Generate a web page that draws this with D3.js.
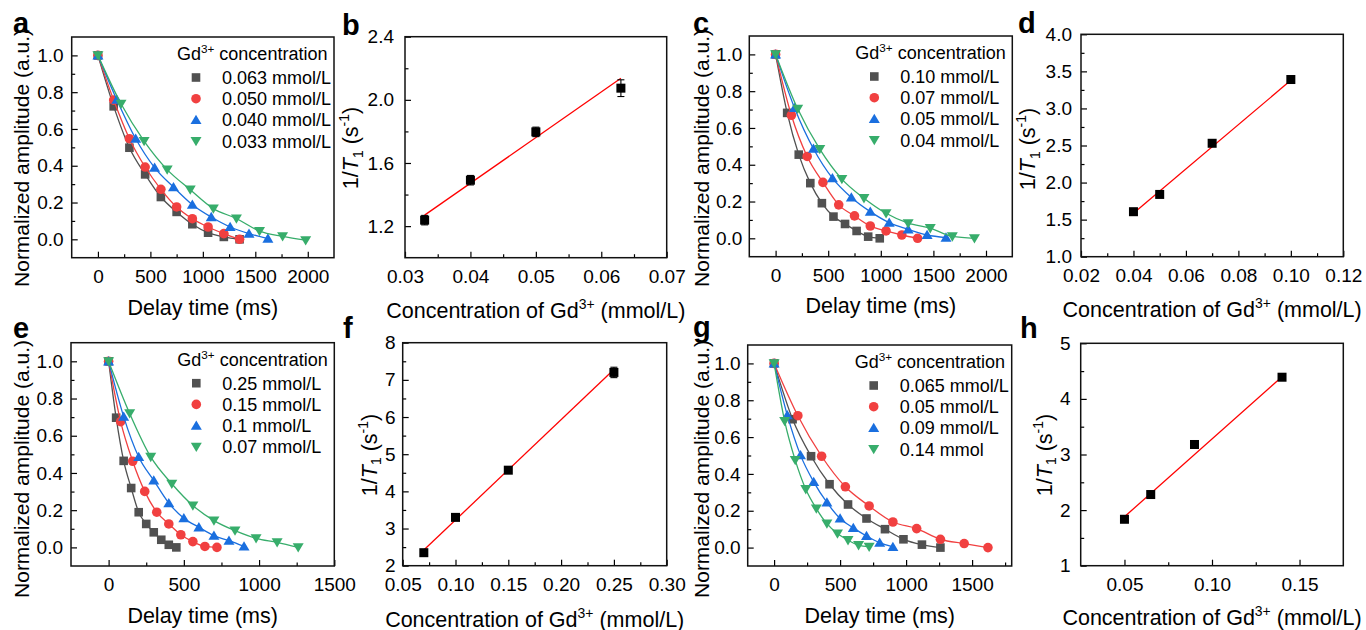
<!DOCTYPE html>
<html>
<head>
<meta charset="utf-8">
<script src="https://cdn.jsdelivr.net/npm/d3@7"></script>
<style>
body { margin: 0; background: #fff; }
svg { display: block; font-family: "Liberation Sans", Arial, sans-serif; }
</style>
</head>
<body>
<svg id="fig" width="1366" height="630"></svg>
<script>
const colors = ['#515151', '#F14040', '#1A6FDF', '#37AD6B'];
const shapes = ['square', 'circle', 'up', 'down'];

// ---- decay data (delay time in ms, normalized amplitude) ----
const aLabels = ['0.063 mmol/L', '0.050 mmol/L', '0.040 mmol/L', '0.033 mmol/L'];
const aTimes = [
    [0, 150, 300, 450, 600, 750, 900, 1050, 1200, 1350],
    [0, 150, 300, 450, 600, 750, 900, 1050, 1200, 1350],
    [0, 180, 360, 540, 720, 900, 1080, 1260, 1440, 1620],
    [0, 220, 440, 660, 880, 1100, 1320, 1540, 1760, 1980]
];
const aAmp = [
    [1, 0.723, 0.498, 0.353, 0.23, 0.149, 0.082, 0.036, 0.013, 0.0],
    [1, 0.757, 0.547, 0.393, 0.272, 0.176, 0.112, 0.067, 0.031, 0.0],
    [1, 0.759, 0.547, 0.39, 0.284, 0.188, 0.121, 0.067, 0.031, 0.004],
    [1, 0.737, 0.534, 0.379, 0.27, 0.167, 0.113, 0.045, 0.016, -0.005]
];

const cLabels = ['0.10 mmol/L', '0.07 mmol/L', '0.05 mmol/L', '0.04 mmol/L'];
const cTimes = [
    [0, 110, 220, 330, 440, 550, 660, 770, 880, 990],
    [0, 150, 300, 450, 600, 750, 900, 1050, 1200, 1350],
    [0, 180, 360, 540, 720, 900, 1080, 1260, 1440, 1620],
    [0, 210, 420, 630, 840, 1050, 1260, 1470, 1680, 1890]
];
const cAmp = [
    [1, 0.682, 0.455, 0.30, 0.191, 0.118, 0.078, 0.04, 0.009, 0],
    [1, 0.669, 0.445, 0.304, 0.182, 0.122, 0.067, 0.04, 0.018, 0],
    [1, 0.709, 0.487, 0.327, 0.222, 0.145, 0.085, 0.049, 0.018, 0.004],
    [1, 0.704, 0.485, 0.322, 0.218, 0.136, 0.082, 0.055, 0.01, 0]
];

const eLabels = ['0.25 mmol/L', '0.15 mmol/L', '0.1 mmol/L', '0.07 mmol/L'];
const eTimes = [
    [0, 50, 100, 150, 200, 250, 300, 350, 400, 450],
    [0, 80, 160, 240, 320, 400, 480, 560, 640, 720],
    [0, 100, 200, 300, 400, 500, 600, 700, 800, 900],
    [0, 140, 280, 420, 560, 700, 840, 980, 1120, 1260]
];
const eAmp = [
    [1, 0.697, 0.465, 0.319, 0.189, 0.126, 0.081, 0.041, 0.014, 0],
    [1, 0.676, 0.463, 0.301, 0.189, 0.126, 0.068, 0.031, 0.005, 0],
    [1, 0.703, 0.486, 0.36, 0.238, 0.157, 0.108, 0.063, 0.036, 0.005],
    [1, 0.72, 0.486, 0.342, 0.225, 0.144, 0.09, 0.049, 0.027, 0]
];

const gLabels = ['0.065 mmol/L', '0.05 mmol/L', '0.09 mmol/L', '0.14 mmol'];
const gTimes = [
    [0, 140, 280, 420, 560, 700, 840, 980, 1120, 1260],
    [0, 180, 360, 540, 720, 900, 1080, 1260, 1440, 1620],
    [0, 100, 200, 300, 400, 500, 600, 700, 800, 900],
    [0, 80, 160, 240, 320, 400, 480, 560, 640, 720]
];
const gAmp = [
    [1, 0.697, 0.496, 0.344, 0.234, 0.158, 0.1, 0.045, 0.016, 0],
    [1, 0.716, 0.496, 0.33, 0.226, 0.139, 0.103, 0.045, 0.022, 0],
    [1, 0.719, 0.502, 0.357, 0.245, 0.158, 0.107, 0.063, 0.027, 0.004],
    [1, 0.687, 0.475, 0.317, 0.212, 0.13, 0.076, 0.04, 0.013, 0.004]
];

const ampTicks = [0, 0.2, 0.4, 0.6, 0.8, 1.0];
const ampMinor = [0.1, 0.3, 0.5, 0.7, 0.9];
const timeTicks2000 = [0, 500, 1000, 1500, 2000];
const timeTicks1500 = [0, 500, 1000, 1500];

// ---- relaxation rate data (1/T1 vs concentration) ----
const bConc = [0.033, 0.040, 0.050, 0.063];
const bRate = [1.238, 1.491, 1.797, 2.074];
const bErr = [0.03, 0.03, 0.03, 0.053];
const bFit = [28.9, 0.316]; // slope, intercept

const dConc = [0.04, 0.05, 0.07, 0.10];
const dRate = [1.607, 1.84, 2.53, 3.39];
const dErr = [0, 0, 0, 0];
const dFit = [29.9, 0.389];

const fConc = [0.07, 0.10, 0.15, 0.25];
const fRate = [2.35, 3.30, 4.57, 7.20];
const fErr = [0.05, 0.05, 0.05, 0.14];
const fFit = [27.0, 0.53];

const hConc = [0.05, 0.065, 0.09, 0.14];
const hRate = [1.835, 2.28, 3.18, 4.39];
const hErr = [0, 0, 0, 0];
const hFit = [28.0, 0.48];

const svg = d3.select('#fig');

function rich (text, parts, size) {
    let off = 0;
    parts.forEach(p => {
        const shift = p.sup ? -0.4 * size : p.sub ? 0.22 * size : 0;
        const ts = text.append('tspan').text(p.t).attr('dy', shift - off);
        if (p.sup || p.sub) ts.attr('font-size', size * 0.65);
        if (p.it) ts.attr('font-style', 'italic');
        off = shift;
    });
}

function marker (g, shape, cx, cy, color) {
    if (shape === 'square') {
        g.append('rect').attr('x', cx - 4.3).attr('y', cy - 4.3).attr('width', 8.6).attr('height', 8.6).attr('fill', color);
    } else if (shape === 'circle') {
        g.append('circle').attr('cx', cx).attr('cy', cy).attr('r', 4.8).attr('fill', color);
    } else if (shape === 'up') {
        g.append('path').attr('d', `M${cx},${cy - 5.2}L${cx + 5.5},${cy + 4.1}L${cx - 5.5},${cy + 4.1}Z`).attr('fill', color);
    } else {
        g.append('path').attr('d', `M${cx},${cy + 5.2}L${cx + 5.5},${cy - 4.1}L${cx - 5.5},${cy - 4.1}Z`).attr('fill', color);
    }
}

function axes (g, box, x, y, o) {
    const styleAxis = sel => {
        sel.select('.domain').remove();
        sel.attr('font-size', 19).attr('font-family', null);
        sel.selectAll('line').attr('stroke', '#000').attr('stroke-width', 1.2);
        sel.selectAll('text').attr('fill', '#000');
    };
    g.append('g').attr('transform', `translate(0,${box.b})`)
        .call(d3.axisBottom(x).tickValues(o.xTicks).tickSize(-6).tickPadding(11.5).tickFormat(o.xFmt))
        .call(styleAxis);
    g.append('g').attr('transform', `translate(0,${box.b})`)
        .call(d3.axisBottom(x).tickValues(o.xMinor).tickSize(-3.5).tickFormat(''))
        .call(styleAxis);
    g.append('g').attr('transform', `translate(${box.l},0)`)
        .call(d3.axisLeft(y).tickValues(o.yTicks).tickSize(-6).tickPadding(o.padY).tickFormat(o.yFmt))
        .call(styleAxis);
    g.append('g').attr('transform', `translate(${box.l},0)`)
        .call(d3.axisLeft(y).tickValues(o.yMinor).tickSize(-3.5).tickFormat(''))
        .call(styleAxis);
    g.append('rect').attr('x', box.l).attr('y', box.t).attr('width', box.r - box.l).attr('height', box.b - box.t)
        .attr('fill', 'none').attr('stroke', '#111').attr('stroke-width', 1.5);

    g.append('text').attr('x', o.letter[1]).attr('y', o.letter[2])
        .attr('font-size', 29).attr('font-weight', 'bold').text(o.letter[0]);
}

function decayPanel (box, o) {
    const g = svg.append('g');
    const x = d3.scaleLinear().domain(o.xDomain).range([box.l, box.r]);
    const y = d3.scaleLinear().domain([-0.1, 1.1]).range([box.b, box.t]);
    axes(g, box, x, y, {
        xTicks: o.xTicks, xMinor: o.xMinor, xFmt: d3.format('d'),
        yTicks: ampTicks, yMinor: ampMinor, yFmt: d3.format('.1f'),
        padY: o.padY, letter: o.letter
    });

    const line = d3.line().x(d => x(d[0])).y(d => y(d[1])).curve(d3.curveMonotoneX);
    o.times.forEach((ts, i) => {
        const pts = ts.map((t, j) => [t, o.amps[i][j]]);
        g.append('path').attr('d', line(pts)).attr('fill', 'none')
            .attr('stroke', colors[i]).attr('stroke-width', 1.3);
        pts.forEach(p => marker(g, shapes[i], x(p[0]), y(p[1]), colors[i]));
    });

    // legend
    const lg = g.append('g').attr('font-size', 18);
    rich(lg.append('text').attr('x', box.r - 157).attr('y', box.t + 23),
        [{ t: 'Gd' }, { t: '3+', sup: true }, { t: ' concentration' }], 18);
    o.labels.forEach((lab, i) => {
        const cy = box.t + 40.5 + i * 21.2;
        marker(lg, shapes[i], box.r - 138, cy, colors[i]);
        lg.append('text').attr('x', box.r - 112).attr('y', cy).attr('dy', '0.36em').text(lab);
    });

    g.append('text').attr('x', (box.l + box.r) / 2).attr('y', o.xTitleY)
        .attr('text-anchor', 'middle').attr('font-size', 21.5).text('Delay time (ms)');
    g.append('text').attr('transform', `translate(${o.yTitle[0]},${o.yTitle[1]}) rotate(-90)`)
        .attr('text-anchor', 'middle').attr('font-size', 21).text('Normalized amplitude (a.u.)');
}

function ratePanel (box, o) {
    const g = svg.append('g');
    const x = d3.scaleLinear().domain(o.xDomain).range([box.l, box.r]);
    const y = d3.scaleLinear().domain(o.yDomain).range([box.b, box.t]);
    axes(g, box, x, y, o);

    const c0 = o.conc[0];
    const c1 = o.conc[o.conc.length - 1];
    g.append('line')
        .attr('x1', x(c0)).attr('y1', y(o.fit[0] * c0 + o.fit[1]))
        .attr('x2', x(c1)).attr('y2', y(o.fit[0] * c1 + o.fit[1]))
        .attr('stroke', '#FF0000').attr('stroke-width', 1.3);

    o.conc.forEach((c, i) => {
        const e = o.err[i];
        if (e > 0) {
            const eb = g.append('g').attr('stroke', '#000').attr('stroke-width', 1.1);
            eb.append('line').attr('x1', x(c)).attr('x2', x(c)).attr('y1', y(o.rate[i] - e)).attr('y2', y(o.rate[i] + e));
            [o.rate[i] - e, o.rate[i] + e].forEach(v => {
                eb.append('line').attr('x1', x(c) - 3.5).attr('x2', x(c) + 3.5).attr('y1', y(v)).attr('y2', y(v));
            });
        }
        g.append('rect').attr('x', x(c) - 4.5).attr('y', y(o.rate[i]) - 4.5)
            .attr('width', 9).attr('height', 9).attr('fill', '#000');
    });

    rich(g.append('text').attr('x', (box.l + box.r) / 2).attr('y', o.xTitleY)
        .attr('text-anchor', 'middle').attr('font-size', 21.5),
    [{ t: 'Concentration of Gd' }, { t: '3+', sup: true }, { t: ' (mmol/L)' }], 21.5);
    rich(g.append('text').attr('transform', `translate(${o.yTitle[0]},${o.yTitle[1]}) rotate(-90)`)
        .attr('text-anchor', 'middle').attr('font-size', 21.5),
    [{ t: '1/' }, { t: 'T', it: true }, { t: '1', sub: true }, { t: ' (s' }, { t: '-1', sup: true }, { t: ')' }], 21.5);
}

decayPanel({ l: 71.7, t: 37, r: 334, b: 257.7 }, {
    xDomain: [-250, 2250], xTicks: timeTicks2000, xMinor: [250, 750, 1250, 1750],
    times: aTimes, amps: aAmp, labels: aLabels, padY: 8,
    letter: ['a', 13, 33], xTitleY: 315, yTitle: [29, 158]
});
decayPanel({ l: 749.3, t: 36, r: 1012.3, b: 256.7 }, {
    xDomain: [-250, 2250], xTicks: timeTicks2000, xMinor: [250, 750, 1250, 1750],
    times: cTimes, amps: cAmp, labels: cLabels, padY: 7,
    letter: ['c', 693, 33], xTitleY: 313, yTitle: [708.5, 158]
});
decayPanel({ l: 71, t: 342.7, r: 334.3, b: 566 }, {
    xDomain: [-250, 1500], xTicks: timeTicks1500, xMinor: [250, 750, 1250],
    times: eTimes, amps: eAmp, labels: eLabels, padY: 8,
    letter: ['e', 13, 338], xTitleY: 623, yTitle: [29, 469]
});
decayPanel({ l: 747.7, t: 345, r: 1011.7, b: 566 }, {
    xDomain: [-200, 1800], xTicks: timeTicks1500, xMinor: [250, 750, 1250, 1750],
    times: gTimes, amps: gAmp, labels: gLabels, padY: 7,
    letter: ['g', 693, 336.5], xTitleY: 623, yTitle: [708.5, 469]
});

ratePanel({ l: 405, t: 36.7, r: 666.7, b: 257.7 }, {
    xDomain: [0.03, 0.07], yDomain: [1.0, 2.4],
    xTicks: [0.03, 0.04, 0.05, 0.06, 0.07], xMinor: [0.035, 0.045, 0.055, 0.065], xFmt: d3.format('.2f'),
    yTicks: [1.2, 1.6, 2.0, 2.4], yMinor: [1.4, 1.8, 2.2], yFmt: d3.format('.1f'), padY: 11,
    conc: bConc, rate: bRate, err: bErr, fit: bFit,
    letter: ['b', 342, 35], xTitleY: 318, yTitle: [358, 148]
});
ratePanel({ l: 1081, t: 34.3, r: 1343.3, b: 256.7 }, {
    xDomain: [0.02, 0.12], yDomain: [1.0, 4.0],
    xTicks: [0.02, 0.04, 0.06, 0.08, 0.10, 0.12], xMinor: [0.03, 0.05, 0.07, 0.09, 0.11], xFmt: d3.format('.2f'),
    yTicks: [1.0, 1.5, 2.0, 2.5, 3.0, 3.5, 4.0], yMinor: [1.25, 1.75, 2.25, 2.75, 3.25, 3.75], yFmt: d3.format('.1f'), padY: 9,
    conc: dConc, rate: dRate, err: dErr, fit: dFit,
    letter: ['d', 1018, 33], xTitleY: 316.5, yTitle: [1035, 149]
});
ratePanel({ l: 402.7, t: 342.7, r: 666.7, b: 565.7 }, {
    xDomain: [0.05, 0.30], yDomain: [2, 8],
    xTicks: [0.05, 0.10, 0.15, 0.20, 0.25, 0.30], xMinor: [0.075, 0.125, 0.175, 0.225, 0.275], xFmt: d3.format('.2f'),
    yTicks: [2, 3, 4, 5, 6, 7, 8], yMinor: [2.5, 3.5, 4.5, 5.5, 6.5, 7.5], yFmt: d3.format('d'), padY: 7,
    conc: fConc, rate: fRate, err: fErr, fit: fFit,
    letter: ['f', 343, 338], xTitleY: 626.5, yTitle: [376.5, 455]
});
ratePanel({ l: 1080.7, t: 343.3, r: 1343.3, b: 565.7 }, {
    xDomain: [0.025, 0.175], yDomain: [1, 5],
    xTicks: [0.05, 0.10, 0.15], xMinor: [0.075, 0.125], xFmt: d3.format('.2f'),
    yTicks: [1, 2, 3, 4, 5], yMinor: [1.5, 2.5, 3.5, 4.5], yFmt: d3.format('d'), padY: 10,
    conc: hConc, rate: hRate, err: hErr, fit: hFit,
    letter: ['h', 1020, 338], xTitleY: 625, yTitle: [1051.5, 455]
});
</script>
</body>
</html>
